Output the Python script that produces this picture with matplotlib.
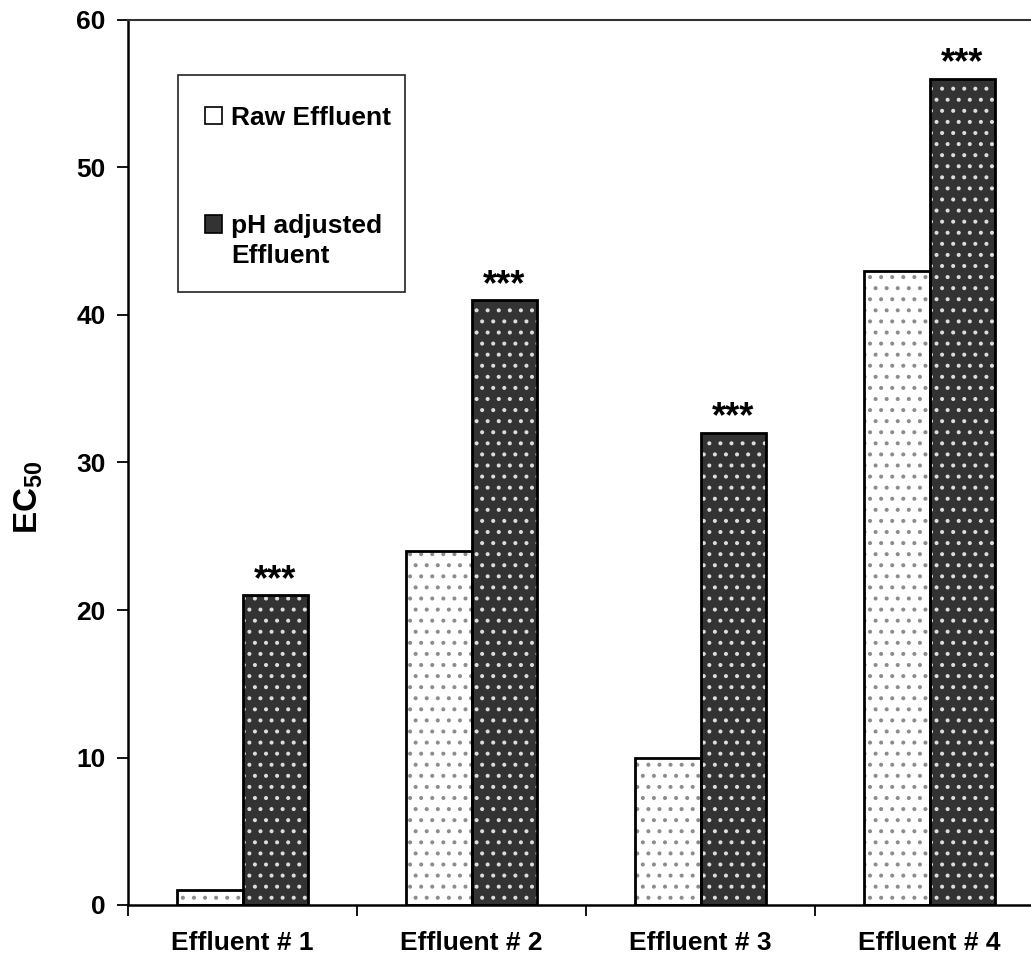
import matplotlib
matplotlib.use("Agg")
import matplotlib.pyplot as plt
import numpy as np
from matplotlib.patches import Rectangle

DPI = 133
K = 100.0 / DPI  # keep sizes as if drawn at 100 dpi

plt.rcParams['font.family'] = ['Liberation Sans', 'DejaVu Sans']
plt.rcParams['font.weight'] = 'bold'
plt.rcParams['mathtext.fontset'] = 'custom'
plt.rcParams['mathtext.rm'] = 'Liberation Sans:bold'
plt.rcParams['mathtext.bf'] = 'Liberation Sans:bold'
plt.rcParams['hatch.linewidth'] = 1.3 * K

categories = ["Effluent # 1", "Effluent # 2", "Effluent # 3", "Effluent # 4"]
raw_values = [1, 24, 10, 43]
ph_values = [21, 41, 32, 56]
significance = ["***", "***", "***", "***"]
series_labels = ["Raw Effluent", "pH adjusted\nEffluent"]
yticks = [0, 10, 20, 30, 40, 50, 60]

W, H = 1031, 957
fig = plt.figure(figsize=(W / DPI, H / DPI), dpi=DPI)
ax = fig.add_axes([128 / W, 52 / H, 916 / W, 885 / H])

x = np.arange(len(categories))
bw = 0.285

raw_face, raw_hatch = 'white', '#8c8c8c'
ph_face, ph_hatch = '#333333', '#dddddd'

ax.bar(x - bw / 2, raw_values, bw, color=raw_face, edgecolor=raw_hatch, hatch='..', linewidth=0, zorder=2)
ax.bar(x + bw / 2, ph_values, bw, color=ph_face, edgecolor=ph_hatch, hatch='..', linewidth=0, zorder=2)
ax.bar(x - bw / 2, raw_values, bw, fill=False, edgecolor='black', linewidth=2.0 * K, zorder=3)
ax.bar(x + bw / 2, ph_values, bw, fill=False, edgecolor='black', linewidth=2.0 * K, zorder=3)

for xi, v, s in zip(x, ph_values, significance):
    ax.annotate(s, (xi + bw / 2, v), xytext=(0, 4 * K), textcoords='offset points',
                ha='center', va='baseline', fontsize=26 * K, fontweight='bold')

ax.set_xlim(-0.5, len(categories) - 0.5)
ax.set_ylim(0, 60)
ax.set_yticks(yticks)
ax.set_yticklabels([str(t) for t in yticks], fontsize=19 * K, fontweight='bold')
ax.set_xticks(x)
ax.set_xticklabels(categories, fontsize=19 * K, fontweight='bold')
ax.tick_params(axis='x', which='major', length=0, pad=19 * K)
ax.set_xticks(np.arange(-0.5, len(categories), 1.0), minor=True)
ax.tick_params(axis='x', which='minor', length=8 * K, width=1.3 * K, direction='out')
ax.tick_params(axis='y', length=8 * K, width=1.3 * K, direction='out', pad=8 * K)

ax.spines['right'].set_visible(False)
ax.spines['left'].set_linewidth(1.8 * K)
ax.spines['bottom'].set_linewidth(1.8 * K)
ax.spines['top'].set_linewidth(1.5 * K)
ax.spines['top'].set_color('#333333')

fig.text(29 / W, 1 - 497 / H, r'$\mathbf{EC_{50}}$', rotation=90, fontsize=24 * K,
         ha='center', va='center')

# ---- legend (drawn in figure pixel positions) ----
def fx(px):
    return px / W

def fy(py):
    return 1 - py / H

frame = Rectangle((fx(178), fy(292)), fx(405) - fx(178), fy(75) - fy(292),
                  transform=fig.transFigure, facecolor='white', edgecolor='#222222',
                  linewidth=1.2 * K, zorder=5)
fig.add_artist(frame)

leg_faces = [raw_face, ph_face]
baselines = [124.5, 233]
line_gap = 30
for face, label, base in zip(leg_faces, series_labels, baselines):
    top = base - 17.5
    fig.add_artist(Rectangle((fx(205), fy(top + 17)), fx(222) - fx(205), fy(top) - fy(top + 17),
                             transform=fig.transFigure, facecolor=face, edgecolor='black',
                             linewidth=1.2 * K, zorder=6))
    for i, line in enumerate(label.split("\n")):
        fig.text(fx(231), fy(base + i * line_gap), line, fontsize=19 * K, fontweight='bold',
                 ha='left', va='baseline', zorder=6)

fig.savefig('out.png', dpi=DPI)
